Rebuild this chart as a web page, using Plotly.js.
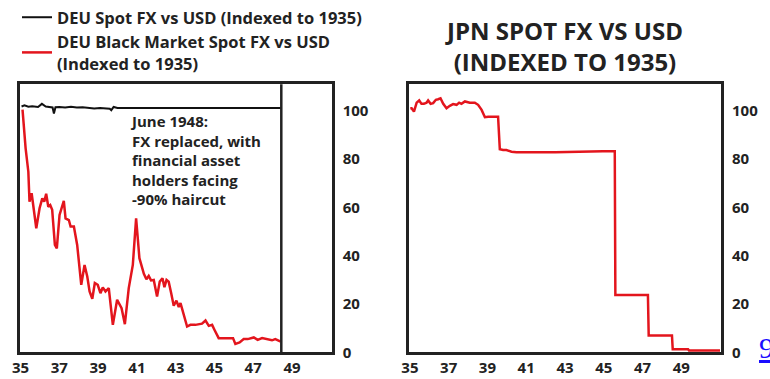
<!DOCTYPE html>
<html>
<head>
<meta charset="utf-8">
<script src="https://cdn.plot.ly/plotly-3.0.1.min.js"></script>
<style>
  html, body { margin: 0; padding: 0; background: #fff; }
  #chart { width: 770px; height: 379px; }
</style>
</head>
<body>
<div id="chart"></div>
<script>
// ---- Data ----
const deuSpotYears = [1935.05, 1935.2, 1935.4, 1935.6, 1935.9, 1936.1, 1936.3, 1936.5, 1936.65, 1936.72, 1936.8, 1937.0, 1937.3, 1937.6, 1937.9, 1938.2, 1938.5, 1938.8, 1939.1, 1939.4, 1939.6, 1939.68, 1939.8, 1940.0, 1948.45];
const deuSpotValues = [101.8, 102.3, 101.7, 101.9, 101.6, 102.9, 101.8, 101.5, 101.4, 98.9, 101.5, 101.6, 101.4, 101.7, 101.4, 101.5, 101.2, 101.0, 101.2, 101.0, 100.9, 100.3, 101.6, 101.2, 101.2];

const deuBlackYears = [1935.1, 1935.26, 1935.4, 1935.46, 1935.57, 1935.64, 1935.81, 1935.98, 1936.12, 1936.22, 1936.32, 1936.43, 1936.53, 1936.63, 1936.77, 1936.87, 1937.01, 1937.23, 1937.32, 1937.49, 1937.58, 1937.75, 1937.92, 1938.13, 1938.3, 1938.44, 1938.56, 1938.7, 1938.83, 1938.98, 1939.12, 1939.24, 1939.38, 1939.55, 1939.76, 1939.98, 1940.21, 1940.38, 1940.58, 1940.79, 1940.96, 1941.13, 1941.36, 1941.49, 1941.61, 1941.73, 1941.87, 1942.04, 1942.18, 1942.32, 1942.42, 1942.53, 1942.64, 1942.77, 1942.9, 1943.04, 1943.16, 1943.25, 1943.39, 1943.59, 1943.76, 1944.02, 1944.36, 1944.54, 1944.71, 1944.88, 1945.0, 1945.22, 1945.65, 1945.96, 1946.08, 1946.3, 1946.51, 1946.72, 1947.03, 1947.23, 1947.46, 1947.72, 1947.97, 1948.14, 1948.31, 1948.42];
const deuBlackValues = [100.5, 84.5, 74.8, 62.4, 65.9, 61.7, 51.4, 59.7, 63.8, 62.4, 65.7, 60.3, 61, 59, 44.5, 43.1, 56.9, 62.7, 55.5, 54.8, 52.1, 52.1, 44.5, 28, 36.2, 31.4, 25.2, 22.2, 28.7, 28, 24.5, 26.9, 25.2, 26.6, 11.4, 21.8, 18.3, 11.7, 26.6, 36.2, 55.5, 39, 32.5, 30.3, 31.7, 29.8, 30, 23.1, 29.3, 30.7, 27, 30, 29.3, 24.5, 19.3, 21.4, 18.8, 20.4, 16.3, 10.7, 11.4, 11.4, 11.9, 13.2, 11, 11.4, 9.4, 5.9, 5.9, 5.9, 3.5, 4.1, 5.5, 5.5, 6.2, 5.2, 5.9, 5.5, 5, 5.5, 4.7, 4.5];

const jpnYears = [1935.02, 1935.09, 1935.21, 1935.35, 1935.48, 1935.6, 1935.72, 1935.86, 1935.94, 1936.07, 1936.2, 1936.34, 1936.46, 1936.58, 1936.72, 1936.89, 1937.06, 1937.23, 1937.41, 1937.54, 1937.66, 1937.84, 1938.09, 1938.35, 1938.52, 1938.7, 1938.87, 1939.04, 1939.55, 1939.64, 1939.81, 1939.98, 1940.24, 1940.5, 1942.5, 1943.6, 1944.96, 1945.57, 1945.6, 1947.28, 1947.32, 1948.52, 1948.56, 1949.35, 1949.4, 1951.0];
const jpnValues = [101.1, 101.1, 99.7, 103.4, 104.3, 102.9, 102.9, 103.4, 104.3, 102.9, 103.2, 104.6, 104.8, 105.2, 102.9, 101.1, 102.1, 102.8, 102.5, 103.4, 102.9, 103.9, 103.4, 103.4, 102.5, 100.4, 97.4, 97.6, 97.6, 84.1, 83.8, 83.8, 83.1, 82.9, 82.9, 83.2, 83.3, 83.3, 23.8, 23.8, 7.0, 7.0, 1.3, 1.3, 0.75, 0.75];

const currencyReformYear = 1948.45;   // June 1948
const xTickYears = [1935, 1937, 1939, 1941, 1943, 1945, 1947, 1949];
const xTickLabels = ['35', '37', '39', '41', '43', '45', '47', '49'];
const yTickValues = [0, 20, 40, 60, 80, 100];

// ---- Styles ----
const FONT = 'Open Sans, Lato, sans-serif';
const INK = '#222222';
const RED = '#e3151d';

const xAxisBase = {
  range: [1934.97, 1951.05],
  tickvals: xTickYears,
  ticktext: xTickLabels,
  ticks: '',
  showgrid: false,
  zeroline: false,
  showline: true,
  mirror: true,
  linewidth: 3,
  linecolor: INK,
  automargin: false,
  ticklabelstandoff: 0,
  tickfont: { family: FONT, size: 15, color: INK, weight: 700 },
  fixedrange: true
};
const yAxisBase = {
  range: [0, 111],
  tickvals: yTickValues,
  side: 'right',
  ticks: '',
  showgrid: false,
  zeroline: false,
  showline: true,
  mirror: true,
  linewidth: 3,
  linecolor: INK,
  automargin: false,
  ticklabelstandoff: 5,
  tickfont: { family: FONT, size: 15, color: INK, weight: 700 },
  fixedrange: true
};

const traces = [
  {
    x: deuSpotYears, y: deuSpotValues, xaxis: 'x', yaxis: 'y',
    type: 'scatter', mode: 'lines',
    name: 'DEU Spot FX vs USD (Indexed to 1935)',
    line: { color: '#111111', width: 2 }
  },
  {
    x: deuBlackYears, y: deuBlackValues, xaxis: 'x', yaxis: 'y',
    type: 'scatter', mode: 'lines',
    name: 'DEU Black Market Spot FX vs USD<br>(Indexed to 1935)',
    line: { color: RED, width: 2.5 }
  },
  {
    x: jpnYears, y: jpnValues, xaxis: 'x2', yaxis: 'y2',
    type: 'scatter', mode: 'lines',
    name: 'JPN Spot FX vs USD (Indexed to 1935)',
    showlegend: false,
    line: { color: RED, width: 2.5 }
  }
];

const layout = {
  width: 770, height: 379,
  margin: { l: 0, r: 0, t: 0, b: 0, pad: 0, autoexpand: false },
  paper_bgcolor: '#ffffff',
  plot_bgcolor: '#ffffff',
  font: { family: FONT, color: INK },
  showlegend: true,
  legend: {
    x: 17 / 770, y: 1.0, xanchor: 'left', yanchor: 'top',
    xref: 'paper', yref: 'paper',
    bgcolor: 'rgba(0,0,0,0)',
    font: { family: FONT, size: 16.5, color: INK, weight: 700 },
    tracegroupgap: 0,
    itemwidth: 30
  },
  title: {
    text: 'JPN SPOT FX VS USD<br>(INDEXED TO 1935)',
    x: 565 / 770, xanchor: 'center', xref: 'container',
    y: 1 - 40 / 379, yanchor: 'top', yref: 'container',
    font: { family: FONT, size: 24, color: INK, weight: 700 }
  },
  xaxis: Object.assign({}, xAxisBase, { domain: [20 / 770, 331.7 / 770], anchor: 'y' }),
  yaxis: Object.assign({}, yAxisBase, { domain: [1 - 352.4 / 379, 1 - 84.3 / 379], anchor: 'x' }),
  xaxis2: Object.assign({}, xAxisBase, { domain: [409.3 / 770, 721 / 770], anchor: 'y2' }),
  yaxis2: Object.assign({}, yAxisBase, { domain: [1 - 352.4 / 379, 1 - 84.3 / 379], anchor: 'x2' }),
  shapes: [
    {
      type: 'line', xref: 'x', yref: 'y domain',
      x0: currencyReformYear, x1: currencyReformYear, y0: 0, y1: 1,
      line: { color: INK, width: 2.5 }
    }
  ],
  annotations: [
    {
      xref: 'x', yref: 'y',
      x: 1940.55, y: 100.8, xanchor: 'left', yanchor: 'top',
      align: 'left', showarrow: false,
      text: 'June 1948:<br>FX replaced, with<br>financial asset<br>holders facing<br>-90% haircut',
      font: { family: FONT, size: 15, color: INK, weight: 700 }
    },
    {
      xref: 'paper', yref: 'paper',
      x: 757 / 770, y: 1 - 366 / 379, xanchor: 'left', yanchor: 'bottom',
      showarrow: false,
      text: '<u>9</u>',
      font: { family: 'Liberation Serif, serif', size: 30, color: '#1a0dff' }
    }
  ]
};

Plotly.newPlot('chart', traces, layout, { displayModeBar: false, staticPlot: true });
</script>
</body>
</html>
